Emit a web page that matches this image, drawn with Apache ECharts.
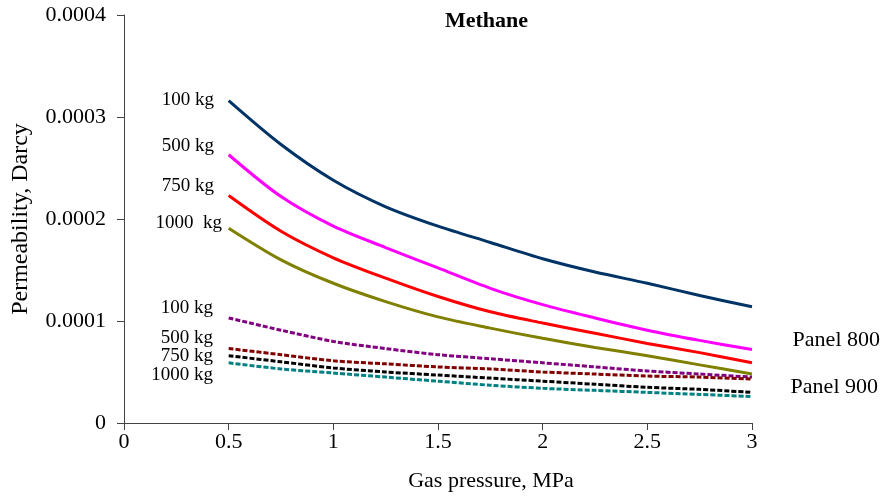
<!DOCTYPE html>
<html>
<head>
<meta charset="utf-8">
<script src="https://cdn.jsdelivr.net/npm/echarts@6/dist/echarts.min.js"></script>
<style>
  html, body { margin: 0; padding: 0; background: #fff; }
  #chart { width: 885px; height: 497px; }
</style>
</head>
<body>
<div id="chart"></div>
<script>
// gas pressure, MPa
var pressure = [0.5, 0.75, 1, 1.25, 1.5, 1.75, 2, 2.25, 2.5, 2.75, 3]

// panel 800 (solid)
var p800_100 = [0.000316, 0.000273, 0.000238, 0.000212, 0.000193, 0.000177, 0.000161, 0.000148, 0.000137, 0.000125, 0.000114]
var p800_500 = [0.000263, 0.000222, 0.000193, 0.000172, 0.000152, 0.000132, 0.000116, 0.000103, 0.000091, 0.000081, 0.000072]
var p800_750 = [0.000223, 0.000188, 0.000162, 0.000142, 0.000124, 0.000109, 0.000098, 0.000088, 0.000078, 0.000069, 0.000059]
var p800_1000 = [0.000191, 0.000160, 0.000137, 0.000119, 0.000104, 0.000093, 0.000083, 0.000074, 0.000066, 0.000057, 0.000048]

// panel 900 (dashed)
var p900_100 = [0.000103, 0.000091, 0.000080, 0.000073, 0.000067, 0.000063, 0.000059, 0.000055, 0.000051, 0.000048, 0.000045]
var p900_500 = [0.000073, 0.000067, 0.000061, 0.000058, 0.000055, 0.000053, 0.000050, 0.000048, 0.000046, 0.000045, 0.000043]
var p900_750 = [0.000066, 0.000060, 0.000054, 0.000050, 0.000047, 0.000044, 0.000041, 0.000038, 0.000035, 0.000033, 0.000030]
var p900_1000 = [0.000059, 0.000053, 0.000049, 0.000045, 0.000041, 0.000037, 0.000034, 0.000032, 0.000030, 0.000028, 0.000026]

var yTicks = [0, 0.0001, 0.0002, 0.0003, 0.0004]

var font = '"Liberation Serif", "DejaVu Serif", serif'

function pairs(vals) {
  return pressure.map(function (p, i) { return [p, vals[i]] })
}

function line(name, vals, color, dashed) {
  return {
    name: name,
    type: 'line',
    data: pairs(vals),
    smooth: 0.3,
    symbol: 'none',
    lineStyle: {
      color: color,
      width: 3,
      type: dashed ? [5, 2] : 'solid'
    }
  }
}

function label(text, x, y, size) {
  return {
    type: 'text',
    x: x,
    y: y,
    style: {
      text: text,
      font: size + 'px ' + font,
      fill: '#000',
      align: 'right',
      verticalAlign: 'middle'
    }
  }
}

var chart = echarts.init(document.getElementById('chart'))

var option = {
  animation: false,
  grid: { left: 124, right: 133, top: 15, bottom: 74 },
  title: {
    text: 'Methane',
    left: 440,
    top: 5,
    textStyle: { fontFamily: font, fontWeight: 'bold', fontSize: 22, color: '#000' }
  },
  xAxis: {
    type: 'value',
    min: 0,
    max: 3,
    interval: 0.5,
    name: 'Gas pressure, MPa',
    nameLocation: 'middle',
    nameGap: 47,
    nameTextStyle: { fontFamily: font, fontSize: 22, color: '#000', padding: [0, 0, 0, 106] },
    axisLine: { lineStyle: { color: '#444', width: 1 } },
    axisTick: { show: true, inside: false, length: 7, lineStyle: { color: '#444' } },
    axisLabel: { fontFamily: font, fontSize: 22, color: '#000', margin: 8 },
    splitLine: { show: false }
  },
  yAxis: {
    type: 'value',
    min: yTicks[0],
    max: yTicks[yTicks.length - 1],
    interval: 0.0001,
    name: 'Permeability, Darcy',
    nameLocation: 'middle',
    nameGap: 91,
    nameTextStyle: { fontFamily: font, fontSize: 24, color: '#000' },
    axisLine: { show: true, lineStyle: { color: '#444', width: 1 } },
    axisTick: { show: true, inside: false, length: 7, lineStyle: { color: '#444' } },
    axisLabel: {
      fontFamily: font, fontSize: 22, color: '#000', margin: 18,
      formatter: function (v) { return v === 0 ? '0' : v.toFixed(4) }
    },
    splitLine: { show: false }
  },
  series: [
    line('Panel 800 100 kg', p800_100, '#003366', false),
    line('Panel 800 500 kg', p800_500, '#FF00FF', false),
    line('Panel 800 750 kg', p800_750, '#FF0000', false),
    line('Panel 800 1000 kg', p800_1000, '#808000', false),
    line('Panel 900 100 kg', p900_100, '#800080', true),
    line('Panel 900 500 kg', p900_500, '#800000', true),
    line('Panel 900 750 kg', p900_750, '#000000', true),
    line('Panel 900 1000 kg', p900_1000, '#008080', true)
  ],
  graphic: [
    label('100 kg', 214, 100, 19),
    label('500 kg', 214, 146, 19),
    label('750 kg', 214, 186, 19),
    label('1000  kg', 222, 223, 19),
    label('100 kg', 213, 308, 19),
    label('500 kg', 213, 338, 19),
    label('750 kg', 213, 356, 19),
    label('1000 kg', 213, 375, 19),
    label('Panel 800', 880, 340, 22),
    label('Panel 900', 878, 387, 22)
  ]
}

chart.setOption(option)
</script>
</body>
</html>
